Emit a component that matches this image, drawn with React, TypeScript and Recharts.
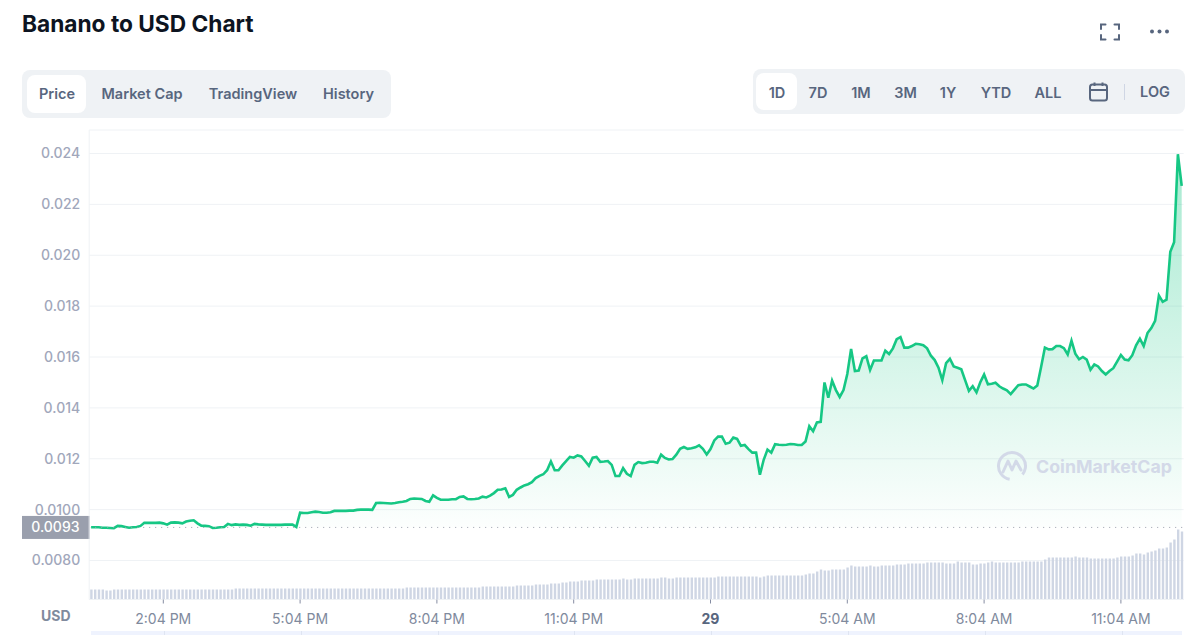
import React from "react";
import {
  ComposedChart, Area, Bar, XAxis, YAxis, CartesianGrid, ReferenceLine,
} from "recharts";

// 5 minute samples
const PRICES = [
  0.00931, 0.00931, 0.00931, 0.00929, 0.00929, 0.00928, 0.00927, 0.00936, 0.00935, 0.00932, 0.00929, 0.00931,
  0.00932, 0.00936, 0.00948, 0.00948, 0.00948, 0.00948, 0.00949, 0.00946, 0.00941, 0.00949, 0.0095, 0.00949,
  0.00946, 0.00953, 0.00956, 0.00958, 0.00946, 0.00937, 0.00936, 0.00935, 0.00928, 0.00929, 0.00931, 0.00932,
  0.00944, 0.00939, 0.00942, 0.0094, 0.00941, 0.0094, 0.00937, 0.00944, 0.00942, 0.00941, 0.0094, 0.0094,
  0.0094, 0.0094, 0.0094, 0.00941, 0.00941, 0.00941, 0.00932, 0.00988, 0.00987, 0.00987, 0.0099, 0.00992,
  0.00991, 0.00988, 0.00988, 0.0099, 0.00995, 0.00995, 0.00995, 0.00995, 0.00996, 0.00996, 0.00999, 0.01,
  0.01, 0.01, 0.00999, 0.01026, 0.01027, 0.01026, 0.01025, 0.01024, 0.01026, 0.01029, 0.01031, 0.01034,
  0.01042, 0.01044, 0.01043, 0.01042, 0.01034, 0.01031, 0.01056, 0.01046, 0.01039, 0.01039, 0.01039, 0.01041,
  0.01041, 0.0105, 0.01052, 0.01042, 0.01041, 0.01042, 0.01044, 0.01051, 0.01048, 0.01055, 0.01065, 0.01078,
  0.01079, 0.01084, 0.0105, 0.01058, 0.01078, 0.01087, 0.01095, 0.011, 0.01108, 0.01124, 0.01133, 0.01139,
  0.01155, 0.01189, 0.01155, 0.01155, 0.01174, 0.01191, 0.01207, 0.01204, 0.01213, 0.01209, 0.01191, 0.01172,
  0.01204, 0.01207, 0.01188, 0.01189, 0.01191, 0.01176, 0.01132, 0.01132, 0.01163, 0.01141, 0.01132, 0.01176,
  0.01187, 0.01183, 0.01184, 0.01188, 0.01188, 0.01184, 0.01216, 0.01203, 0.01197, 0.01199, 0.01216, 0.01239,
  0.01246, 0.01239, 0.01241, 0.01245, 0.01253, 0.01239, 0.01217, 0.01238, 0.01272, 0.01287, 0.01287, 0.01259,
  0.01263, 0.01283, 0.01278, 0.01251, 0.01254, 0.01238, 0.01224, 0.01224, 0.01137, 0.01196, 0.01236, 0.01224,
  0.01257, 0.01255, 0.01254, 0.01255, 0.01258, 0.01257, 0.01254, 0.01254, 0.01268, 0.01328, 0.01308, 0.01343,
  0.01345, 0.015, 0.0144, 0.01507, 0.0147, 0.01443, 0.0147, 0.01533, 0.01632, 0.01545, 0.01547, 0.01595,
  0.01603, 0.01549, 0.01586, 0.01586, 0.01586, 0.01625, 0.01612, 0.01634, 0.0167, 0.01678, 0.01637, 0.01637,
  0.01643, 0.01652, 0.0165, 0.01646, 0.01634, 0.01605, 0.01588, 0.01558, 0.01509, 0.01576, 0.01593, 0.01563,
  0.01558, 0.01552, 0.01509, 0.01467, 0.01485, 0.01461, 0.01501, 0.01531, 0.01493, 0.01495, 0.01499, 0.01485,
  0.01476, 0.01469, 0.01454, 0.01472, 0.01489, 0.01492, 0.01492, 0.01484, 0.01476, 0.01488, 0.01561, 0.01637,
  0.0163, 0.01631, 0.01643, 0.01643, 0.01635, 0.0161, 0.01664, 0.01613, 0.01591, 0.016, 0.0159, 0.0155,
  0.01571, 0.01563, 0.01545, 0.01531, 0.01545, 0.01556, 0.01582, 0.01608, 0.0159, 0.01587, 0.01607, 0.01646,
  0.01672, 0.01643, 0.01694, 0.01714, 0.01742, 0.01842, 0.01817, 0.01825, 0.02014, 0.02051, 0.02397, 0.02273,
];

// relative volume, no scale is shown on the picture
const VOLUMES = [
  10, 10, 10, 10, 9, 9, 10, 10, 10, 10, 10, 10, 10, 10, 10, 10, 10, 10, 10, 10, 10, 10, 10, 10,
  10, 10, 10, 10, 10, 10, 10, 10, 10, 10, 10, 10, 10, 10, 11, 11, 11, 11, 11, 11, 11, 11, 11, 11,
  11, 11, 11, 11, 11, 11, 11, 11, 11, 11, 11, 11, 11, 11, 11, 11, 11, 11, 11, 11, 11, 11, 11, 11,
  11, 11, 11, 11, 11, 11, 11, 11, 11, 11, 11, 12, 12, 12, 12, 12, 12, 12, 12, 12, 12, 12, 12, 12,
  12, 12, 12, 12, 12, 12, 12, 13, 13, 13, 13, 13, 13, 13, 13, 13, 14, 14, 14, 14, 14, 15, 15, 15,
  15, 16, 16, 16, 17, 17, 18, 18, 18, 19, 19, 19, 19, 20, 20, 20, 20, 20, 20, 20, 21, 20, 20, 21,
  21, 21, 21, 21, 21, 21, 22, 22, 21, 21, 22, 22, 22, 22, 22, 22, 22, 22, 22, 22, 22, 23, 23, 23,
  23, 23, 23, 23, 23, 23, 23, 23, 22, 23, 24, 24, 24, 24, 24, 24, 24, 24, 24, 24, 25, 26, 26, 28,
  30, 29, 29, 30, 30, 30, 30, 32, 34, 33, 33, 33, 33, 34, 33, 33, 34, 34, 34, 34, 35, 35, 35, 36,
  36, 36, 36, 36, 37, 37, 37, 37, 37, 36, 36, 36, 38, 37, 37, 37, 35, 35, 36, 36, 37, 38, 37, 37,
  37, 37, 37, 37, 37, 38, 38, 38, 38, 38, 38, 40, 42, 42, 42, 42, 42, 42, 42, 43, 42, 42, 42, 41,
  41, 41, 41, 41, 41, 41, 42, 43, 43, 43, 44, 46, 46, 45, 47, 48, 49, 51, 51, 52, 57, 60, 70, 68,
];

const PRICE_TICKS = [0.008, 0.01, 0.012, 0.014, 0.016, 0.018, 0.02, 0.022, 0.024];
const CURRENT_PRICE = 0.0093;
const TIME_TICKS = [19, 55, 91, 127, 163, 199, 235, 271];
const TIME_LABELS = ["2:04 PM", "5:04 PM", "8:04 PM", "11:04 PM", "29", "5:04 AM", "8:04 AM", "11:04 AM"];
const LEFT_TABS = ["Price", "Market Cap", "TradingView", "History"];
const RANGE_TABS = ["1D", "7D", "1M", "3M", "1Y", "YTD", "ALL"];

const chartData = PRICES.map((price, i) => ({ i, price, volume: VOLUMES[i] }));

const FONT = "Inter, sans-serif";
const GREEN = "#16c784";
const TAB_TEXT = "#58667e";

const TimeTick = (props: any) => {
  const { x, y, payload } = props;
  const label = TIME_LABELS[TIME_TICKS.indexOf(payload.value)];
  const bold = label === "29";
  return (
    <text x={x} y={y + 18} textAnchor="middle" fontSize={14} fontFamily={FONT}
      fontWeight={bold ? 700 : 400} fill={bold ? "#58667e" : "#808a9d"}>
      {label}
    </text>
  );
};

const PriceBadge = (props: any) => {
  const { viewBox } = props;
  return (
    <g>
      <rect x={22} y={viewBox.y - 11.5} width={68} height={23} fill="#9a9fad" />
      <text x={79.5} y={viewBox.y + 5} textAnchor="end" fontSize={14} fontWeight={500} fontFamily={FONT} fill="#fff">
        {CURRENT_PRICE.toFixed(4)}
      </text>
    </g>
  );
};

const tabStyle: React.CSSProperties = {
  position: "absolute", fontSize: 14.5, fontWeight: 600, color: TAB_TEXT,
  transform: "translate(-50%, -50%)", whiteSpace: "nowrap",
};

const LEFT_TAB_CENTERS = [57, 142, 253, 348.5];
const RANGE_TAB_CENTERS = [777, 818, 861, 905.5, 948, 996, 1048];

export default function App() {
  return (
    <div style={{ position: "absolute", left: 0, top: 0, width: 1194, height: 635, overflow: "hidden", background: "#fff", fontFamily: FONT }}>
      <div style={{ position: "absolute", left: 22, top: 10, fontSize: 22.7, lineHeight: "28px", fontWeight: 700, color: "#0d1421", whiteSpace: "nowrap" }}>
        Banano to USD Chart
      </div>

      {/* fullscreen + more icons */}
      <svg style={{ position: "absolute", left: 1096, top: 20 }} width={80} height={24}>
        <path d="M4.5 9V4.5H9M18 4.5H22.5V9M22.5 15V19.5H18M9 19.5H4.5V15" fill="none" stroke={TAB_TEXT} strokeWidth={2} strokeLinecap="round" transform="translate(0.5,0)" />
        <circle cx={56} cy={11.5} r={2} fill={TAB_TEXT} />
        <circle cx={63.5} cy={11.5} r={2} fill={TAB_TEXT} />
        <circle cx={71} cy={11.5} r={2} fill={TAB_TEXT} />
      </svg>

      {/* tabs left */}
      <div style={{ position: "absolute", left: 22, top: 70, width: 369, height: 48, background: "#eff2f5", borderRadius: 8 }} />
      <div style={{ position: "absolute", left: 27, top: 75, width: 59, height: 38, background: "#fff", borderRadius: 8 }} />
      {LEFT_TABS.map((t, i) => (
        <div key={t} style={{ ...tabStyle, left: LEFT_TAB_CENTERS[i], top: 93 }}>{t}</div>
      ))}

      {/* tabs right */}
      <div style={{ position: "absolute", left: 753, top: 69, width: 432, height: 45, background: "#eff2f5", borderRadius: 8 }} />
      <div style={{ position: "absolute", left: 756, top: 73, width: 41, height: 37, background: "#fff", borderRadius: 8 }} />
      {RANGE_TABS.map((t, i) => (
        <div key={t} style={{ ...tabStyle, left: RANGE_TAB_CENTERS[i], top: 91.5 }}>{t}</div>
      ))}
      <svg style={{ position: "absolute", left: 1088, top: 81 }} width={22} height={22}>
        <rect x={2} y={3.5} width={17} height={16} rx={2.5} fill="none" stroke={TAB_TEXT} strokeWidth={2} />
        <path d="M2 9H19M6.5 1.5V5M14.5 1.5V5" stroke={TAB_TEXT} strokeWidth={2} fill="none" />
      </svg>
      <div style={{ position: "absolute", left: 1124, top: 84, width: 1, height: 16, background: "#cfd6e4" }} />
      <div style={{ ...tabStyle, left: 1155, top: 90.5 }}>LOG</div>

      <ComposedChart
        width={1194}
        height={635}
        data={chartData}
        margin={{ top: 130, right: 10.4, left: 0, bottom: 0 }}
        barCategoryGap={0}
        style={{ position: "absolute", left: 0, top: 0 }}
      >
        <defs>
          <linearGradient id="priceFill" x1="0" y1="0" x2="0" y2="1">
            <stop offset="0%" stopColor={GREEN} stopOpacity={0.38} />
            <stop offset="100%" stopColor={GREEN} stopOpacity={0.01} />
          </linearGradient>
        </defs>
        <CartesianGrid vertical={false} stroke="#eff2f5" yAxisId="price" />
        <XAxis
          dataKey="i"
          type="category"
          height={35.5}
          ticks={TIME_TICKS}
          interval={0}
          tick={<TimeTick />}
          tickSize={4}
          tickLine={{ stroke: "#858ca2" }}
          axisLine={{ stroke: "#eff2f5" }}
        />
        <YAxis
          yAxisId="price"
          width={89.2}
          domain={[0.006467, 0.024924]}
          ticks={PRICE_TICKS}
          interval={0}
          allowDataOverflow
          tickFormatter={(v: number) => (v <= 0.01 ? v.toFixed(4) : v.toFixed(3))}
          tickSize={0}
          tickMargin={9}
          tick={{ fontSize: 14, fontWeight: 500, fontFamily: FONT, fill: "#a1a7bb" }}
          axisLine={{ stroke: "#eff2f5" }}
        />
        <YAxis yAxisId="volume" orientation="right" hide width={0} domain={[0, 469.5]} />
        <Bar yAxisId="volume" dataKey="volume" fill="#cfd6e4" barSize={2.4} isAnimationActive={false} />
        <Area
          yAxisId="price"
          type="linear"
          dataKey="price"
          baseValue={CURRENT_PRICE}
          stroke={GREEN}
          strokeWidth={2.6}
          fill="url(#priceFill)"
          fillOpacity={1}
          dot={false}
          activeDot={false}
          isAnimationActive={false}
        />
        <ReferenceLine
          yAxisId="price"
          y={CURRENT_PRICE}
          stroke="#9a9fad"
          strokeDasharray="1 5"
          label={<PriceBadge />}
        />
      </ComposedChart>

      <div style={{ position: "absolute", left: 41, top: 607, fontSize: 14, lineHeight: "18px", fontWeight: 700, color: "#808a9d" }}>USD</div>

      {/* watermark */}
      <svg style={{ position: "absolute", left: 994, top: 448 }} width={36} height={36}>
        <circle cx={18} cy={18} r={13.5} fill="none" stroke="#d3d9e8" strokeWidth={3} strokeDasharray="70 15" transform="rotate(100 18 18)" />
        <path d="M9 24L14 13L18 22L22 13L27 22" fill="none" stroke="#d3d9e8" strokeWidth={3} strokeLinejoin="round" strokeLinecap="round" />
      </svg>
      <div style={{ position: "absolute", left: 1036, top: 455, fontSize: 17.8, lineHeight: "24px", fontWeight: 700, color: "#d3d9e8", whiteSpace: "nowrap" }}>CoinMarketCap</div>

      {/* navigator strip at the bottom edge */}
      <div style={{ position: "absolute", left: 91, top: 631, width: 1091, height: 4, background: "#eff3fe" }} />
      {TIME_TICKS.map((t) => (
        <div key={t} style={{ position: "absolute", left: 90.5 + 3.8 * t + 1.2, top: 631, width: 1, height: 4, background: "#dfe5f2" }} />
      ))}
    </div>
  );
}
